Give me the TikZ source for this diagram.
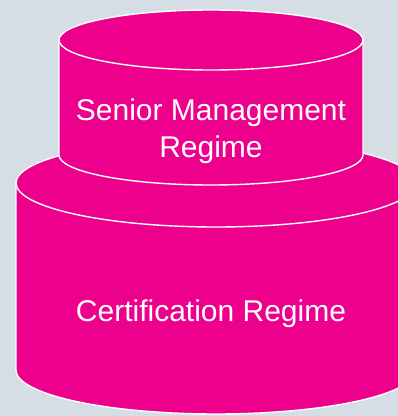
\documentclass[tikz,border=0pt]{standalone}
\usepackage{fontspec}
\setmainfont{Liberation Sans}
\definecolor{bgblue}{HTML}{D5DDE5}
\definecolor{tiermagenta}{HTML}{EC008C}
\begin{document}
\begin{tikzpicture}[x=1pt,y=1pt,
  tier/.style={fill=tiermagenta,draw=white,line width=1.4pt},
  rim/.style={draw=white,line width=1.4pt},
  tierlabel/.style={text=white,font=\fontsize{30}{37}\selectfont,align=center,inner sep=0pt}]
  % canvas
  \fill[bgblue] (0,0) rectangle (398,416);
  \useasboundingbox (0,0) rectangle (398,416);
  \begin{scope}
    \clip (0,0) rectangle (398,416);
    % lower tier: certification
    \draw[tier] (16,233) -- (16,46) arc[start angle=180,end angle=360,x radius=200,y radius=44]
      -- (416,233) arc[start angle=0,end angle=180,x radius=200,y radius=44] -- cycle;
    \draw[rim] (16,233) arc[start angle=180,end angle=360,x radius=200,y radius=44];
    % upper tier: senior management
    \draw[tier] (59,376) -- (59,261) arc[start angle=180,end angle=360,x radius=152,y radius=30]
      -- (363,376) arc[start angle=0,end angle=180,x radius=152,y radius=30] -- cycle;
    \draw[rim] (59,376) arc[start angle=180,end angle=360,x radius=152,y radius=30];
  \end{scope}
  \node[tierlabel] (smr) at (211,285) {Senior Management\\Regime};
  \node[tierlabel,anchor=base] (cr) at (211,94) {Certification Regime};
\end{tikzpicture}
\end{document}
